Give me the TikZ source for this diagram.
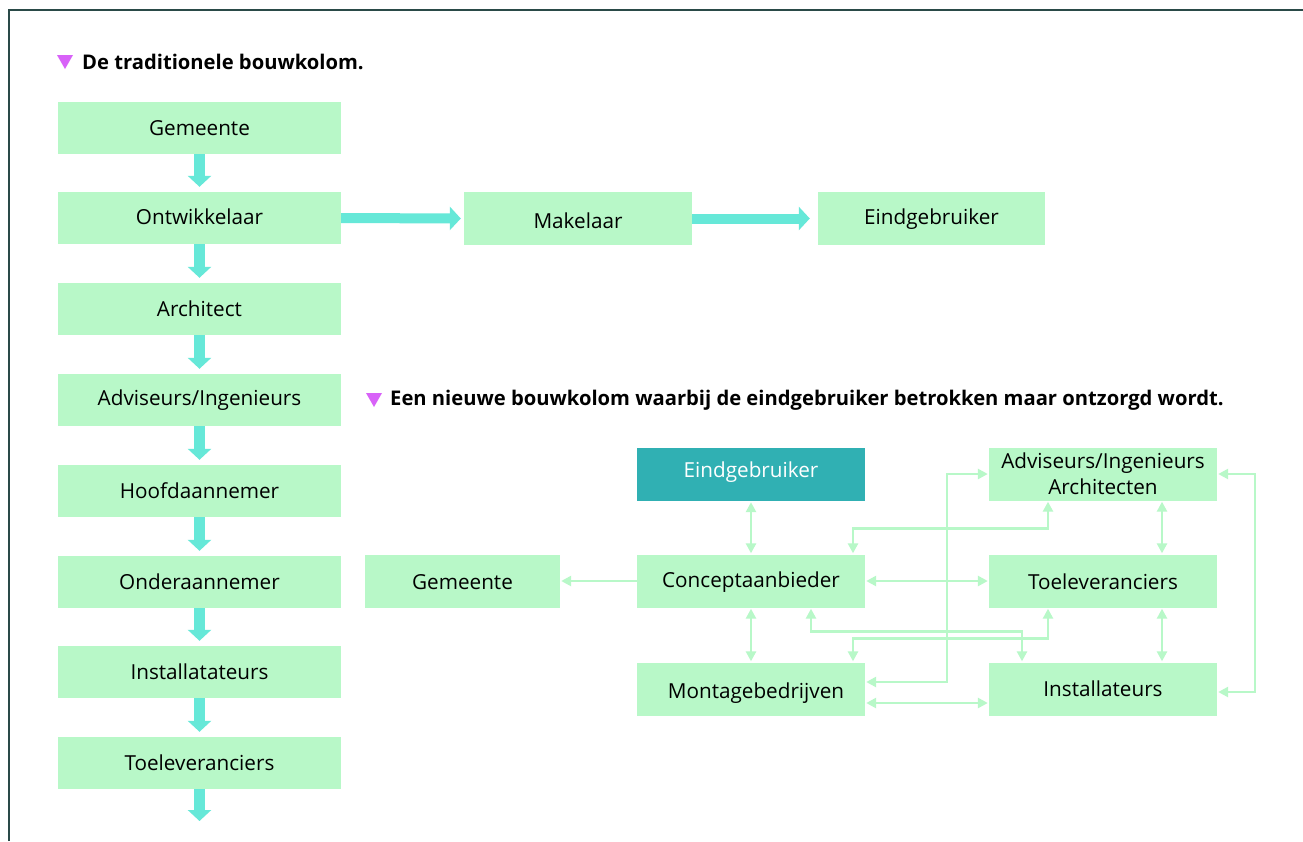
\documentclass[tikz,border=0pt]{standalone}
\usepackage{fontspec}
\setmainfont{Open Sans}
\usetikzlibrary{arrows.meta,calc}
\definecolor{boxgreen}{HTML}{B8F8C8}
\definecolor{linegreen}{HTML}{B8F8C8}
\definecolor{cyanarrow}{HTML}{66E8D8}
\definecolor{tealbox}{HTML}{30B0B3}
\definecolor{magtri}{HTML}{D862F8}
\definecolor{framecol}{HTML}{2A4A48}
\newcommand{\shiftdown}[2]{\raisebox{-#1}[\height][\depth]{#2}}
\tikzset{
  colbox/.style={fill=boxgreen, draw=none, minimum width=283pt, minimum height=52pt, inner sep=0pt, font=\fontsize{20.7}{24}\selectfont, text=black},
  rbox/.style={fill=boxgreen, draw=none, minimum width=228pt, minimum height=53pt, inner sep=0pt, font=\fontsize{20.7}{24}\selectfont, text=black, align=center},
  bigarrow/.style={draw=cyanarrow, line width=11pt, -{Triangle[width=23pt,length=11pt]}},
  thinboth/.style={draw=linegreen, line width=2.5pt, {Triangle[width=10pt,length=10pt]}-{Triangle[width=10pt,length=10pt]}, shorten >=1pt, shorten <=1pt},
  thinone/.style={draw=linegreen, line width=2.5pt, -{Triangle[width=10pt,length=10pt]}, shorten >=1pt},
  titletext/.style={font=\bfseries\fontsize{20.2}{24}\selectfont, text=black, inner sep=0pt, anchor=west},
  tri/.style={fill=magtri, draw=none}
}
\begin{document}
\begin{tikzpicture}[x=1pt,y=-1pt]
\useasboundingbox (0,0) rectangle (1303,841);
\fill[white] (0,0) rectangle (1303,841);
% frame
\draw[framecol, line width=2pt] (8.5,841) -- (8.5,9.5) -- (1303,9.5);

% titles
\fill[tri] (57,55) -- (73,55) -- (65,69) -- cycle;
\node[titletext] (t1) at (82,62) {De traditionele bouwkolom.};
\fill[tri] (366,393) -- (382,393) -- (374,407) -- cycle;
\node[titletext] (t2) at (390,400) {Een nieuwe bouwkolom waarbij de eindgebruiker betrokken maar ontzorgd wordt.};

% left column
\node[colbox] (g1) at (199.5,128) {Gemeente};
\node[colbox] (o1) at (199.5,218) {\shiftdown{-1pt}{Ontwikkelaar}};
\node[colbox] (a1) at (199.5,309) {Architect};
\node[colbox] (ad1) at (199.5,400) {Adviseurs/Ingenieurs};
\node[colbox] (h1) at (199.5,491) {Hoofdaannemer};
\node[colbox] (on1) at (199.5,582) {Onderaannemer};
\node[colbox] (i1) at (199.5,672) {Installatateurs};
\node[colbox] (t1b) at (199.5,763) {Toeleveranciers};
\coordinate (endc) at (199.5,821);

\draw[bigarrow] (g1.south) -- ($(o1.north)+(0,-5)$);
\draw[bigarrow] (o1.south) -- ($(a1.north)+(0,-5)$);
\draw[bigarrow] (a1.south) -- ($(ad1.north)+(0,-5)$);
\draw[bigarrow] (ad1.south) -- ($(h1.north)+(0,-5)$);
\draw[bigarrow] (h1.south) -- ($(on1.north)+(0,-5)$);
\draw[bigarrow] (on1.south) -- ($(i1.north)+(0,-5)$);
\draw[bigarrow] (i1.south) -- ($(t1b.north)+(0,-5)$);
\draw[bigarrow] (t1b.south) -- (endc);

% top row
\node[colbox, minimum width=228pt, minimum height=53pt] (mk) at (578,218.5) {\shiftdown{2pt}{Makelaar}};
\node[colbox, minimum width=227pt, minimum height=53pt] (eg1) at (931.5,218.5) {\shiftdown{1pt}{Eindgebruiker}};
\draw[bigarrow, line width=10pt] (o1.east) -- ($(mk.west)+(-3,0)$);
\draw[bigarrow, line width=10pt] (mk.east) -- ($(eg1.west)+(-8,0)$);

% new diagram
\node[rbox, fill=tealbox, text=white] (eg2) at (751,474.5) {\shiftdown{-2pt}{Eindgebruiker}};
\node[rbox] (cp) at (751,581) {\shiftdown{1pt}{Conceptaanbieder}};
\node[rbox] (mb) at (751,689) {\hspace*{10pt}\shiftdown{4pt}{Montagebedrijven}};
\node[rbox, font=\fontsize{20.7}{26}\selectfont] (av) at (1103,474) {Adviseurs/Ingenieurs\\Architecten};
\node[rbox] (tl) at (1103,581) {\shiftdown{1pt}{Toeleveranciers}};
\node[rbox] (in) at (1103,689) {Installateurs};
\node[rbox, minimum width=195pt] (gm2) at (462.5,581) {\shiftdown{1pt}{Gemeente}};

\draw[thinboth] (eg2.south) -- (cp.north);
\draw[thinboth] (cp.south) -- (mb.north);
\draw[thinboth] ([xshift=59pt]av.south) -- ([xshift=59pt]tl.north);
\draw[thinboth] ([xshift=59pt]tl.south) -- ([xshift=59pt]in.north);
\draw[thinboth] (cp.east) -- (tl.west);
\draw[thinboth] ([yshift=-14pt]mb.east) -- ([yshift=-14pt]in.west);
\draw[thinone] (cp.west) -- (gm2.east);
\draw[thinboth] ([xshift=102pt]cp.north) -- ++(0,-26) -| ([xshift=-55pt]av.south);
\draw[thinboth] ([yshift=7pt]mb.east) -- ++(82,0) |- (av.west);
\draw[thinboth] (av.east) -- ++(38,0) |- ([yshift=-3pt]in.east);
\draw[thinboth] ([xshift=60pt]cp.south) -- ++(0,24) -| ([xshift=-81pt]in.north);
\draw[thinboth] ([xshift=-55pt]tl.south) -- ++(0,31) -| ([xshift=102pt]mb.north);
\end{tikzpicture}
\end{document}
